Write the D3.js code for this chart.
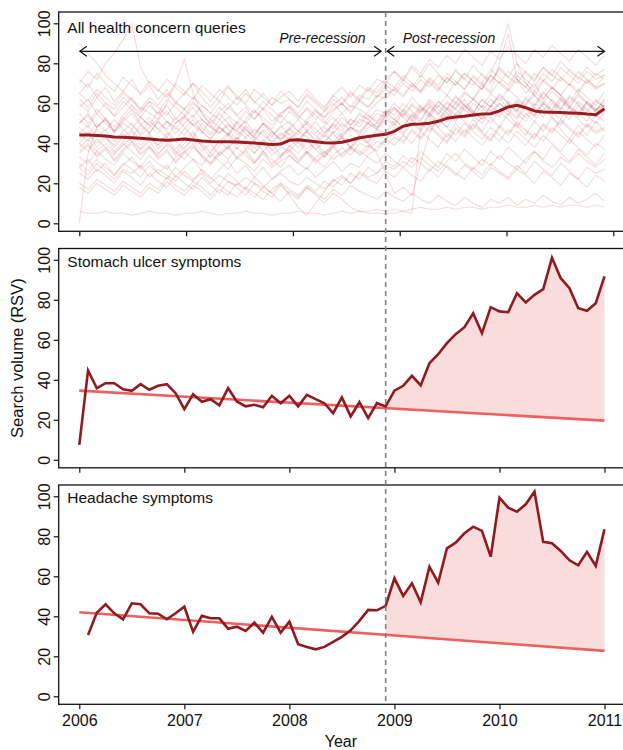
<!DOCTYPE html>
<html>
<head>
<meta charset="utf-8">
<script src="https://cdn.jsdelivr.net/npm/d3@7/dist/d3.min.js"></script>
<style>
    body { margin: 0; background: #fff; }
    svg { display: block; }
    text { font-family: "Liberation Sans", Arial, Helvetica, sans-serif; fill: #111; }
</style>
</head>
<body>
<div id="chart"></div>
<script>
// ---- Data ----
const years = [2006, 2007, 2008, 2009, 2010, 2011];
const yTicks = [0, 20, 40, 60, 80, 100];
const panelTitles = ['All health concern queries', 'Stomach ulcer symptoms', 'Headache symptoms'];
const months = d3.range(61).map(i => 2006 + i / 12); // Jan 2006 .. Jan 2011
const recessionIndex = 35; // Dec 2008

// mean of all health concern queries
const meanAll = [44.1, 44.1, 43.9, 43.6, 43.2, 43, 42.8, 42.5, 42.2, 41.8, 41.5, 41.8,
    42.2, 41.7, 41.2, 40.9, 40.8, 40.8, 40.6, 40.4, 40.2, 39.8, 39.4, 39.6,
    41.5, 41.8, 41.3, 40.8, 40.3, 40.2, 40.5, 41.5, 42.8, 43.4, 44, 44.5,
    46, 48.5, 49.5, 49.7, 50, 51, 52.5, 53.2, 53.5, 54.2, 54.6, 54.8,
    56.2, 58.2, 59, 57.8, 56.2, 55.6, 55.5, 55.4, 55.2, 55, 54.6, 54.3, 57.3];

const stomach = [7.5, 44.7, 35.8, 38.3, 38.3, 35.3, 34.5, 37.8, 35, 37, 37.8, 33.3,
    25.3, 32.8, 29, 30.3, 27.2, 35.8, 29.2, 26.7, 27.5, 26.3, 32, 28.3,
    32, 26.7, 32.5, 30.3, 28.3, 23.3, 31.2, 21.7, 28.8, 20.8, 28.3, 26.7,
    34.6, 37, 42, 37.2, 48.3, 52.8, 58.3, 62.8, 66.3, 73.3, 63.3, 76.3,
    74.2, 73.8, 83.3, 78.7, 82.5, 85.3, 101, 90.8, 85.8, 75.8, 74.5, 78.3, 91.7];

const headache = [null, 30.7, 41.8, 46, 41.5, 38.5, 46.5, 46, 41.5, 41.3, 38.5, 41.5,
    44.8, 32.2, 40.2, 39, 39, 33.8, 34.8, 32.7, 36.8, 31.8, 39.7, 31.8,
    37.3, 26, 24.7, 23.5, 24.7, 27.2, 29.7, 33, 37.7, 43.2, 43, 45.2,
    59, 50.2, 56.5, 47, 64.8, 56.8, 74, 76.8, 81.5, 84.8, 82.7, 69.8,
    99.3, 94.3, 92.3, 96, 102.3, 77.2, 76.5, 72.7, 68, 65.5, 72.2, 65.2, 83.5];

// pre-recession linear trend, value at first and last month
const stomachTrend = [34.6, 19.6];
const headacheTrend = [42, 22.7];

// a sample of the individual query series behind the mean (faint lines)
const queryLines = [
    [62,58,65,60,57,63,59,55,61,58,54,60, 57,53,59,55,52,58,54,50,56,53,49,55, 58,54,50,56,53,57,60,56,62,58,63,67, 64,70,66,72,68,74,70,76,72,69,75,71, 77,73,70,76,72,78,74,71,77,73,70,75,72],
    [28,24,30,26,22,27,25,29,23,27,24,21, 26,22,25,20,24,21,19,23,20,18,22,25, 21,19,23,20,17,21,24,20,26,23,25,29, 27,31,28,33,29,26,31,35,30,27,32,29, 34,30,27,32,36,31,28,33,30,35,31,28,32],
    [6,5,5,6,5,5,4,5,6,5,5,4, 5,5,6,5,4,5,5,6,5,5,4,5, 5,6,5,5,4,5,6,5,6,6,7,6, 7,6,7,8,7,7,8,7,8,8,7,8, 8,9,8,8,9,8,9,8,9,9,8,9,8],
    [0,35,48,52,45,50,47,53,49,45,51,48, 44,50,46,42,48,45,41,47,43,40,46,42, 45,41,47,44,40,46,43,48,45,50,47,53, 50,56,52,58,55,61,57,63,59,55,62,58, 64,60,56,62,58,65,61,57,63,59,55,61,58],
    [70,76,72,80,85,92,100,78,70,66,72,68, 64,70,66,61,67,63,59,65,61,57,63,60, 62,58,64,60,56,62,59,65,61,67,63,69, 66,72,68,74,70,66,73,69,75,71,67,74, 70,66,72,68,64,71,67,73,69,65,71,67,70],
    [90,85,80,74,70,66,62,58,55,52,56,50, 53,49,52,48,45,49,46,43,47,44,41,45, 42,46,43,40,44,41,45,48,44,50,47,52, 49,55,51,57,53,59,55,61,57,53,59,56, 60,56,52,58,54,60,56,52,58,55,51,57,54],
    [40,45,38,43,36,41,46,39,44,37,42,35, 40,45,38,33,39,44,37,42,35,40,34,38, 36,41,35,40,33,38,43,37,42,40,46,44, 50,45,52,47,54,48,43,50,45,52,46,53, 48,55,49,44,51,46,53,47,42,49,44,51,46],
    [50,55,48,53,46,52,57,50,45,51,47,53, 48,43,50,45,52,47,42,49,44,50,46,41, 47,52,46,51,45,50,55,49,54,52,57,55, 60,56,63,58,54,61,57,64,59,55,62,58, 65,60,56,63,59,66,61,57,64,60,56,62,58],
    [33,30,36,32,29,35,31,28,34,30,27,33, 36,32,29,35,31,27,33,30,26,32,28,31, 34,30,27,33,36,32,35,38,34,37,41,39, 43,40,46,42,48,44,40,47,43,49,45,41, 48,44,50,46,42,49,45,51,47,43,49,45,47],
    [55,50,57,52,48,54,59,53,49,56,51,47, 53,58,52,48,55,50,46,52,57,51,47,54, 50,46,52,57,51,47,53,49,55,52,48,54, 58,53,49,56,60,55,51,58,62,56,52,59, 63,57,53,60,64,58,54,61,57,53,60,56,59],
    [30,26,32,28,24,30,27,23,29,25,22,28, 24,21,27,23,19,25,21,17,23,19,15,20, 14,8,4,10,16,22,19,25,22,28,25,31, 28,34,30,36,32,28,35,31,37,33,29,36, 32,38,34,30,36,32,39,35,31,37,33,29,35],
    [65,70,63,68,61,66,72,64,69,62,67,60, 65,70,63,58,64,69,62,67,60,65,59,63, 66,61,67,62,58,64,68,63,69,66,72,70, 76,71,78,73,80,75,70,77,72,79,74,70, 78,73,80,75,71,78,74,81,76,72,78,74,77],
    [45,49,43,47,41,46,50,44,48,52,60,70, 82,65,55,49,45,50,44,48,42,46,40,44, 47,42,46,41,45,49,44,48,46,51,48,54, 52,57,53,59,55,51,58,54,60,56,52,59, 55,61,57,53,60,56,62,58,54,61,57,53,59],
    [20,17,22,19,16,21,18,15,20,17,23,19, 16,21,18,14,19,16,13,18,15,12,17,20, 17,14,19,16,21,18,23,20,25,22,20,26, 23,28,24,21,27,23,29,25,22,28,24,30, 26,23,29,25,31,27,24,30,26,22,28,25,27],
    [38,42,36,40,35,39,43,37,41,35,39,34, 38,42,36,40,34,38,43,37,41,36,40,34, 38,42,37,41,35,40,44,38,43,41,47,45, 52,48,55,51,58,54,60,57,65,62,70,66, 80,95,72,65,70,62,68,64,58,65,60,56,62],
    [25,22,27,24,20,26,23,19,25,21,18,24, 20,17,23,19,15,21,18,14,20,16,13,19, 15,12,18,14,10,15,12,8,6,5,5,5, 5,6,5,48,55,50,57,52,59,54,50,57, 53,60,55,51,58,53,60,56,52,59,54,50,56],
    [48,44,50,46,52,47,43,49,45,51,46,42, 47,52,46,42,48,44,50,45,41,47,43,49, 44,40,46,42,48,45,50,46,52,50,55,53, 57,53,59,55,61,57,53,60,56,62,58,54, 60,56,62,58,54,61,57,63,59,55,61,57,60],
    [35,39,33,37,31,36,40,34,38,32,36,30, 35,39,33,29,34,38,32,36,30,35,29,33, 36,31,35,30,34,38,33,37,35,39,36,42, 39,44,40,46,42,38,45,41,47,43,39,45, 41,47,43,39,45,41,48,44,40,46,42,38,44],
    [58,62,55,60,53,58,63,56,61,54,59,52, 57,61,55,50,56,60,54,58,52,57,51,55, 58,53,57,52,56,60,55,59,57,54,50,56, 52,48,54,50,46,52,48,44,50,46,42,48, 44,40,46,42,38,44,40,36,42,38,34,40,37],
    [42,46,40,44,38,43,47,41,45,39,43,37, 42,46,40,36,41,45,39,43,37,42,36,40, 43,38,42,37,41,45,40,44,42,48,50,55, 58,54,60,56,62,58,64,60,66,62,58,65, 61,67,63,59,66,62,68,64,60,67,63,59,66],
    [72,68,75,70,66,73,69,65,71,67,63,70, 66,62,69,65,61,68,64,60,67,63,59,66, 62,58,65,61,57,64,60,66,62,68,65,71, 68,74,70,66,73,69,75,71,67,74,70,77, 73,69,76,72,68,75,71,78,74,70,76,72,74],
    [28,32,26,30,24,29,33,27,31,25,29,23, 28,32,26,22,27,31,25,29,23,28,22,26, 29,24,28,23,27,31,26,30,28,34,38,42, 45,41,47,43,49,45,41,48,44,50,46,42, 49,45,51,47,43,50,46,52,48,44,50,46,48],
    [52,48,55,50,46,53,49,45,51,47,43,50, 54,49,45,52,48,44,51,47,43,50,46,42, 48,44,51,47,43,50,46,52,48,54,51,57, 54,60,56,52,59,55,61,57,53,60,56,62, 58,54,61,57,53,60,56,62,58,54,61,57,59],
    [40,36,42,38,34,40,36,32,38,34,40,36, 32,38,34,30,36,32,38,34,30,36,32,28, 34,30,36,32,28,34,38,34,40,38,44,42, 48,44,50,46,52,48,55,51,58,62,68,75, 85,100,80,70,64,60,66,62,58,64,60,56,62],
    [60,56,63,58,54,61,57,53,59,55,62,58, 54,60,56,52,58,54,50,56,52,58,54,50, 56,52,58,54,50,56,60,55,61,58,64,62, 68,64,70,66,72,68,64,71,67,73,69,65, 71,67,74,70,66,72,68,64,70,66,72,68,70],
    [45,41,47,43,39,45,41,37,43,39,45,41, 37,43,39,35,41,37,43,39,35,41,37,33, 39,35,41,37,33,39,43,38,44,40,35,25, 15,18,14,30,45,52,48,55,51,47,54,50, 56,52,48,55,51,57,53,49,56,52,48,54,51],
    [36,40,34,38,32,37,41,35,39,33,37,31, 36,40,34,30,35,39,33,37,31,36,30,34, 37,32,36,31,35,39,34,38,36,33,30,35, 31,28,33,30,26,31,28,24,29,26,22,28, 25,22,27,24,20,26,23,19,25,22,18,24,21],
    [50,54,48,52,46,51,55,49,53,47,51,45, 50,54,48,44,49,53,47,51,45,50,44,48, 51,46,50,45,49,53,48,52,50,56,60,64, 67,63,69,65,71,67,73,69,75,71,67,74, 70,76,72,68,75,71,77,73,69,76,72,68,74],
    [65,61,67,63,59,65,61,57,63,59,65,61, 57,63,59,55,61,57,63,59,55,61,57,53, 59,55,61,57,53,59,63,58,64,62,68,72, 76,72,79,75,82,78,84,80,87,83,79,86, 82,88,84,80,87,83,89,85,81,87,83,79,84],
    [18,15,20,17,14,19,16,13,18,15,21,17, 14,19,16,12,17,14,20,17,13,18,15,11, 16,13,18,15,12,17,14,19,16,14,12,16, 13,11,15,12,10,14,11,9,13,10,8,12, 10,13,9,12,10,14,11,9,13,10,12,15,11]
];

// ---- Layout ----
const width = 623;
const height = 750;
const plotLeft = 58.7;
const plotRight = 626; // frame runs off the right edge, as in the original
const panelTops = [12, 248.5, 485];
const panelHeight = 219.3;
const titleBaselines = [33.3, 267.3, 503.3];

const colors = {
    line: '#8f1a1f',
    mean: '#9a1b20',
    faint: 'rgba(170, 40, 55, 0.17)',
    trend: '#ef5656',
    fill: '#f9dcdc',
    dash: '#808080'
};

const svg = d3.select('#chart')
    .append('svg')
    .attr('width', width)
    .attr('height', height);

// data x scale (lower panels share it; top panel's year ticks sit slightly wider)
const x = d3.scaleLinear().domain([2006, 2011]).range([79.3, 604.5]);
const xTopTicks = d3.scaleLinear().domain([2006, 2011]).range([79.3, 613.3]);
const xRec = x(months[recessionIndex]);

function yScale(top) {
    return d3.scaleLinear().domain([0, 100]).range([top + 211.3, top + 11.3]);
}

function drawAxes(g, y, xTickScale, showLabels, top) {
    // left axis with labels turned parallel to the axis
    const ya = g.append('g')
        .attr('transform', `translate(${plotLeft},0)`)
        .call(d3.axisLeft(y).tickValues(yTicks).tickSize(5));
    ya.select('.domain').remove();
    ya.selectAll('line').attr('stroke', '#111').attr('stroke-width', 1.2);
    ya.selectAll('text')
        .attr('x', null).attr('dy', null)
        .attr('text-anchor', 'middle')
        .attr('transform', 'translate(-8.7,0) rotate(-90)')
        .style('font-size', '16px')
        .style('fill', '#111');

    // bottom ticks
    const xa = g.append('g')
        .attr('transform', `translate(0,${top + panelHeight})`)
        .call(d3.axisBottom(xTickScale).tickValues(years).tickSize(5).tickFormat(d3.format('d')));
    xa.select('.domain').remove();
    xa.selectAll('line').attr('stroke', '#111').attr('stroke-width', 1.2);
    if (showLabels) {
        xa.selectAll('text')
            .attr('y', null).attr('dy', null)
            .attr('transform', 'translate(0,21.5)')
            .style('font-size', '16px')
            .style('fill', '#111');
    } else {
        xa.selectAll('text').remove();
    }

    // frame
    g.append('rect')
        .attr('x', plotLeft)
        .attr('y', top)
        .attr('width', plotRight - plotLeft)
        .attr('height', panelHeight)
        .attr('fill', 'none')
        .attr('stroke', '#111')
        .attr('stroke-width', 1.3);
}

function linePath(y) {
    return d3.line()
        .defined(d => d[1] != null)
        .x(d => x(d[0]))
        .y(d => y(d[1]));
}

// ---- Panel 1: all health concern queries ----
{
    const top = panelTops[0];
    const y = yScale(top);
    const g = svg.append('g');
    const line = linePath(y);

    g.selectAll('.query')
        .data(queryLines)
        .enter()
        .append('path')
        .attr('class', 'query')
        .attr('d', s => line(s.slice(0, months.length).map((v, i) => [months[i], v])))
        .attr('fill', 'none')
        .attr('stroke', colors.faint)
        .attr('stroke-width', 1.1);

    g.append('path')
        .attr('d', line(meanAll.map((v, i) => [months[i], v])))
        .attr('fill', 'none')
        .attr('stroke', colors.mean)
        .attr('stroke-width', 3)
        .attr('stroke-linejoin', 'round');

    drawAxes(g, y, xTopTicks, false, top);

    // period arrows
    const ay = y(86);
    const arrows = [
        { x1: x(2006) + 0.5, x2: xRec - 4.5 },
        { x1: xRec + 1.5, x2: x(2011) }
    ];
    arrows.forEach(a => {
        g.append('line')
            .attr('x1', a.x1).attr('x2', a.x2)
            .attr('y1', ay).attr('y2', ay)
            .attr('stroke', '#111').attr('stroke-width', 1.2);
        g.append('path')
            .attr('d', `M${a.x1 + 7},${ay - 5}L${a.x1},${ay}L${a.x1 + 7},${ay + 5}`)
            .attr('fill', 'none').attr('stroke', '#111').attr('stroke-width', 1.2);
        g.append('path')
            .attr('d', `M${a.x2 - 7},${ay - 5}L${a.x2},${ay}L${a.x2 - 7},${ay + 5}`)
            .attr('fill', 'none').attr('stroke', '#111').attr('stroke-width', 1.2);
    });

    g.append('text')
        .attr('x', xRec - 20)
        .attr('y', 43.3)
        .attr('text-anchor', 'end')
        .style('font-size', '14px')
        .style('font-style', 'italic')
        .text('Pre-recession');

    g.append('text')
        .attr('x', xRec + 17)
        .attr('y', 43.3)
        .style('font-size', '14px')
        .style('font-style', 'italic')
        .text('Post-recession');
}

// ---- Panels 2 and 3: single queries with pre-recession trend ----
[
    { series: stomach, trend: stomachTrend, panel: 1 },
    { series: headache, trend: headacheTrend, panel: 2 }
].forEach(p => {
    const top = panelTops[p.panel];
    const y = yScale(top);
    const g = svg.append('g');
    const trendAt = i => p.trend[0] + (p.trend[1] - p.trend[0]) * i / (months.length - 1);

    // shaded gap between observed and expected after the recession
    const post = d3.range(recessionIndex, months.length);
    g.append('path')
        .attr('d', d3.area()
            .x(i => x(months[i]))
            .y0(i => y(trendAt(i)))
            .y1(i => y(p.series[i]))(post))
        .attr('fill', colors.fill);

    g.append('path')
        .attr('d', d3.line().x(i => x(months[i])).y(i => y(trendAt(i)))([0, months.length - 1]))
        .attr('stroke', colors.trend)
        .attr('stroke-width', 2.6)
        .attr('stroke-opacity', 0.95);

    g.append('path')
        .attr('d', linePath(y)(p.series.map((v, i) => [months[i], v])))
        .attr('fill', 'none')
        .attr('stroke', colors.line)
        .attr('stroke-width', 2.6)
        .attr('stroke-linejoin', 'miter');

    drawAxes(g, y, x, p.panel === 2, top);
});

// panel titles
panelTitles.forEach((t, i) => {
    svg.append('text')
        .attr('x', 67.3)
        .attr('y', titleBaselines[i])
        .style('font-size', '15.5px')
        .text(t);
});

// recession marker across all panels
svg.append('line')
    .attr('x1', xRec).attr('x2', xRec)
    .attr('y1', panelTops[0])
    .attr('y2', panelTops[2] + panelHeight)
    .attr('stroke', colors.dash)
    .attr('stroke-width', 1.6)
    .attr('stroke-dasharray', '5,4');

// axis titles
svg.append('text')
    .attr('transform', `translate(23,${(panelTops[1] + panelTops[1] + panelHeight) / 2}) rotate(-90)`)
    .attr('text-anchor', 'middle')
    .style('font-size', '16.5px')
    .text('Search volume (RSV)');

svg.append('text')
    .attr('x', (plotLeft + 623) / 2)
    .attr('y', 747)
    .attr('text-anchor', 'middle')
    .style('font-size', '16px')
    .text('Year');
</script>
</body>
</html>
